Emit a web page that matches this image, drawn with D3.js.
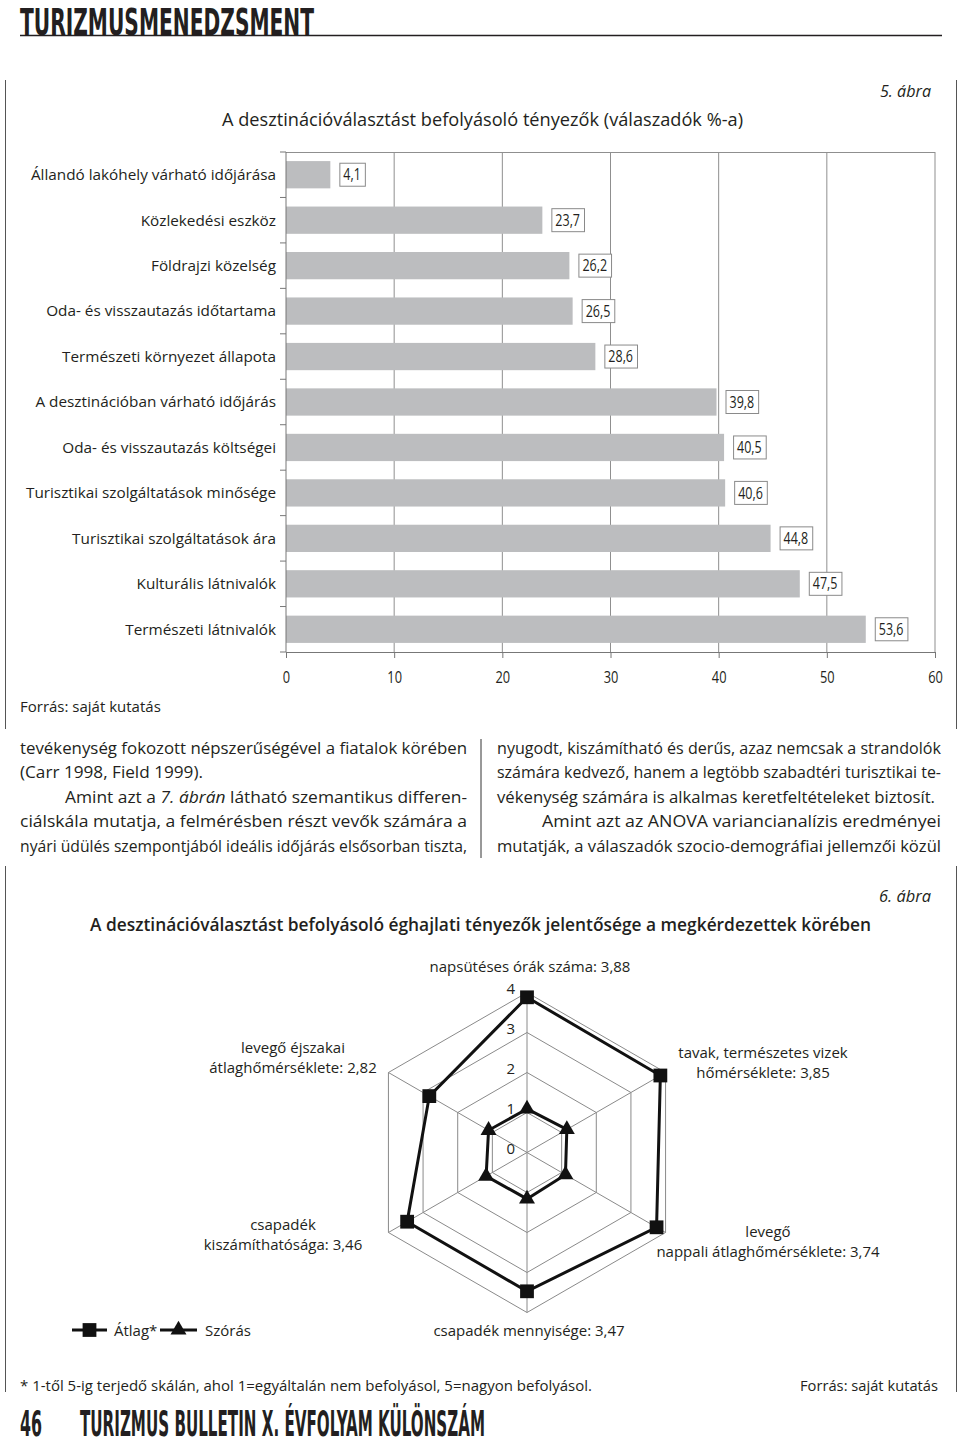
<!DOCTYPE html>
<html>
<head>
<meta charset="utf-8">
<script src="https://cdn.jsdelivr.net/npm/d3@7/dist/d3.min.js"></script>
<style>
  html, body { margin: 0; padding: 0; background: #fff; }
  svg { display: block; }
  text { fill: #231f20; }
</style>
</head>
<body>
<svg id="page" width="960" height="1444"></svg>
<script>
// ---------- DATA ----------
const categories = [
  "Állandó lakóhely várható időjárása",
  "Közlekedési eszköz",
  "Földrajzi közelség",
  "Oda- és visszautazás időtartama",
  "Természeti környezet állapota",
  "A desztinációban várható időjárás",
  "Oda- és visszautazás költségei",
  "Turisztikai szolgáltatások minősége",
  "Turisztikai szolgáltatások ára",
  "Kulturális látnivalók",
  "Természeti látnivalók"
];
const values = [4.1, 23.7, 26.2, 26.5, 28.6, 39.8, 40.5, 40.6, 44.8, 47.5, 53.6];
const xTicks = [0, 10, 20, 30, 40, 50, 60];

const radarAxes = [
  ["napsütéses órák száma: 3,88"],
  ["tavak, természetes vizek", "hőmérséklete: 3,85"],
  ["levegő", "nappali átlaghőmérséklete: 3,74"],
  ["csapadék mennyisége: 3,47"],
  ["csapadék", "kiszámíthatósága: 3,46"],
  ["levegő éjszakai", "átlaghőmérséklete: 2,82"]
];
const radarMean = [3.88, 3.85, 3.74, 3.47, 3.46, 2.82];
const radarSd = [1.09, 1.15, 1.11, 1.16, 1.18, 1.11];
const radarTicks = [0, 1, 2, 3, 4];
const legendNames = ["Átlag*", "Szórás"];

// ---------- PAGE ----------
const svg = d3.select("#page");
svg.append("rect").attr("width", 960).attr("height", 1444).attr("fill", "#fff");

const FONT = "'Open Sans', 'Noto Sans', sans-serif";
const NARROW = "'Open Sans', 'Noto Sans', sans-serif";
const DISPLAY = "'DejaVu Sans Condensed', 'DejaVu Sans', sans-serif";

// condense helper: squeeze a text to a fraction of its natural width
function condense(sel, f) {
  sel.each(function () {
    const w = this.getComputedTextLength();
    d3.select(this).attr("textLength", w * f).attr("lengthAdjust", "spacingAndGlyphs");
  });
}

// header
svg.append("text").attr("x", 20).attr("y", 34.5)
  .attr("font-family", DISPLAY).attr("font-weight", "bold").attr("font-size", 37)
  .attr("textLength", 294).attr("lengthAdjust", "spacingAndGlyphs")
  .text("TURIZMUSMENEDZSMENT");
svg.append("line").attr("x1", 20).attr("x2", 942).attr("y1", 35.5).attr("y2", 35.5)
  .attr("stroke", "#231f20").attr("stroke-width", 1.5);

// frame lines
const frame = [[80, 729], [866, 1392]];
frame.forEach(([a, b]) => {
  [5.5, 956.5].forEach(x => {
    svg.append("line").attr("x1", x).attr("x2", x).attr("y1", a).attr("y2", b)
      .attr("stroke", "#555").attr("stroke-width", 1);
  });
});

// figure 5 captions
svg.append("text").attr("x", 931).attr("y", 97).attr("text-anchor", "end")
  .attr("font-family", FONT).attr("font-style", "italic").attr("font-size", 17)
  .attr("textLength", 51).attr("lengthAdjust", "spacingAndGlyphs").text("5. ábra");
svg.append("text").attr("x", 222).attr("y", 126)
  .attr("font-family", FONT).attr("font-size", 18)
  .attr("textLength", 521).attr("lengthAdjust", "spacingAndGlyphs")
  .text("A desztinációválasztást befolyásoló tényezők (válaszadók %-a)");

// ---------- BAR CHART ----------
const x = d3.scaleLinear().domain([0, 60]).range([286, 935]);
const y = d3.scaleBand().domain(categories).range([152, 652]).paddingInner(0.4).paddingOuter(0.2);
const step = y.step();

const g = svg.append("g");
// grid lines
g.selectAll(".grid").data(xTicks.filter(d => d > 0)).join("line")
  .attr("x1", d => x(d)).attr("x2", d => x(d)).attr("y1", 152).attr("y2", 652)
  .attr("stroke", "#8f8f8f").attr("stroke-width", 1);
g.append("line").attr("x1", x(0)).attr("x2", x(60)).attr("y1", 152.5).attr("y2", 152.5)
  .attr("stroke", "#8f8f8f");

// bars
g.selectAll(".bar").data(values).join("rect")
  .attr("x", x(0)).attr("y", (d, i) => y(categories[i]))
  .attr("width", d => x(d) - x(0)).attr("height", y.bandwidth())
  .attr("fill", "#bcbdbf");

// y axis line and boundary ticks
g.append("line").attr("x1", 286).attr("x2", 286).attr("y1", 152).attr("y2", 652)
  .attr("stroke", "#777");
d3.range(categories.length + 1).forEach(i => {
  const yy = 152 + i * step;
  g.append("line").attr("x1", 280).attr("x2", 286).attr("y1", yy).attr("y2", yy).attr("stroke", "#777");
});
// category labels
g.selectAll(".cat").data(categories).join("text")
  .attr("x", 276).attr("y", d => y(d) + y.bandwidth() / 2).attr("dy", "0.35em")
  .attr("text-anchor", "end").attr("font-family", FONT).attr("font-size", 15.3)
  .attr("fill", "#2b2b2b").text(d => d);

// x axis
const xAxis = d3.axisBottom(x).tickValues(xTicks).tickSize(6).tickPadding(14).tickFormat(d3.format("d"));
const xa = svg.append("g").attr("transform", "translate(0,652)").call(xAxis);
xa.select(".domain").attr("stroke", "#777");
xa.selectAll(".tick line").attr("stroke", "#777");
xa.selectAll(".tick text").attr("font-family", NARROW).attr("font-size", 16).attr("fill", "#2b2b2b");
condense(xa.selectAll(".tick text"), 0.8);

// value label boxes
const lab = g.selectAll(".val").data(values).join("g")
  .attr("transform", (d, i) => `translate(${x(d) + 9},${y(categories[i]) + y.bandwidth() / 2})`);
lab.append("text").attr("x", 4).attr("dy", "0.35em")
  .attr("font-family", NARROW).attr("font-size", 16).attr("fill", "#2b2b2b")
  .text(d => d3.format(".1f")(d).replace(".", ","));
condense(lab.selectAll("text"), 0.78);
lab.each(function () {
  const t = d3.select(this).select("text");
  const w = +t.attr("textLength") + 8;
  d3.select(this).insert("rect", "text").attr("x", 0.5).attr("y", -11.5)
    .attr("width", w).attr("height", 23).attr("fill", "#fff").attr("stroke", "#8a8a8a");
});

svg.append("text").attr("x", 20).attr("y", 712)
  .attr("font-family", FONT).attr("font-size", 15).attr("fill", "#2b2b2b").text("Forrás: saját kutatás");

// ---------- BODY TEXT ----------
const para = [
  {x: 20, y: 754, len: 447, parts: [["tevékenység fokozott népszerűségével a fiatalok körében"]]},
  {x: 20, y: 778, len: 183, parts: [["(Carr 1998, Field 1999)."]]},
  {x: 65, y: 803, len: 402, parts: [["Amint azt a "], ["7. ábrán", "i"], [" látható szemantikus differen-"]]},
  {x: 20, y: 827, len: 447, parts: [["ciálskála mutatja, a felmérésben részt vevők számára a"]]},
  {x: 20, y: 852, len: 447, parts: [["nyári üdülés szempontjából ideális időjárás elsősorban tiszta,"]]},
  {x: 497, y: 754, len: 444, parts: [["nyugodt, kiszámítható és derűs, azaz nemcsak a strandolók"]]},
  {x: 497, y: 778, len: 444, parts: [["számára kedvező, hanem a legtöbb szabadtéri turisztikai te-"]]},
  {x: 497, y: 803, len: 438, parts: [["vékenység számára is alkalmas keretfeltételeket biztosít."]]},
  {x: 542, y: 827, len: 399, parts: [["Amint azt az ANOVA variancianalízis eredményei"]]},
  {x: 497, y: 852, len: 444, parts: [["mutatják, a válaszadók szocio-demográfiai jellemzői közül"]]}
];
para.forEach(p => {
  const t = svg.append("text").attr("x", p.x).attr("y", p.y)
    .attr("font-family", FONT).attr("font-size", 16.5).attr("fill", "#231f20")
    .attr("textLength", p.len).attr("lengthAdjust", "spacingAndGlyphs");
  p.parts.forEach(([s, st]) => {
    const ts = t.append("tspan").text(s);
    if (st === "i") ts.attr("font-style", "italic");
  });
});
svg.append("line").attr("x1", 481).attr("x2", 481).attr("y1", 739).attr("y2", 858)
  .attr("stroke", "#333");

// ---------- FIGURE 6 ----------
svg.append("text").attr("x", 931).attr("y", 902).attr("text-anchor", "end")
  .attr("font-family", FONT).attr("font-style", "italic").attr("font-size", 17)
  .attr("textLength", 52).attr("lengthAdjust", "spacingAndGlyphs").text("6. ábra");
svg.append("text").attr("x", 90).attr("y", 931)
  .attr("font-family", FONT).attr("font-weight", 600).attr("font-size", 18)
  .attr("textLength", 781).attr("lengthAdjust", "spacingAndGlyphs")
  .text("A desztinációválasztást befolyásoló éghajlati tényezők jelentősége a megkérdezettek körében");

const cx = 527, cy = 1152.5;
const r = d3.scaleLinear().domain([0, 4]).range([0, 160]);
const n = radarAxes.length;
const ang = i => -Math.PI / 2 + i * 2 * Math.PI / n;
const pt = (v, i) => [cx + r(v) * Math.cos(ang(i)), cy + r(v) * Math.sin(ang(i))];
const rg = svg.append("g");

// rings
radarTicks.filter(t => t > 0).forEach(t => {
  rg.append("path").attr("d", d3.line()(d3.range(n).map(i => pt(t, i))) + "Z")
    .attr("fill", "none").attr("stroke", "#8a8a8a").attr("stroke-width", 1);
});
// spokes
d3.range(n).forEach(i => {
  const [px, py] = pt(4, i);
  rg.append("line").attr("x1", cx).attr("y1", cy).attr("x2", px).attr("y2", py)
    .attr("stroke", "#8a8a8a").attr("stroke-width", 1);
});
// tick labels
rg.selectAll(".rt").data(radarTicks).join("text")
  .attr("x", 515).attr("y", d => cy - r(d) - 4).attr("dy", "0.35em")
  .attr("text-anchor", "end").attr("font-family", FONT).attr("font-size", 15)
  .attr("fill", "#2b2b2b").text(d => d);

// series
const closed = arr => d3.line()(arr.map((v, i) => pt(v, i))) + "Z";
rg.append("path").attr("d", closed(radarSd)).attr("fill", "none")
  .attr("stroke", "#111").attr("stroke-width", 3).attr("stroke-linejoin", "miter");
rg.append("path").attr("d", closed(radarMean)).attr("fill", "none")
  .attr("stroke", "#111").attr("stroke-width", 3).attr("stroke-linejoin", "miter");
const tri = d3.symbol().type(d3.symbolTriangle).size(110);
const sq = d3.symbol().type(d3.symbolSquare).size(190);
radarSd.forEach((v, i) => {
  const [px, py] = pt(v, i);
  rg.append("path").attr("d", tri()).attr("transform", `translate(${px},${py})`).attr("fill", "#111");
});
radarMean.forEach((v, i) => {
  const [px, py] = pt(v, i);
  rg.append("path").attr("d", sq()).attr("transform", `translate(${px},${py})`).attr("fill", "#111");
});

// axis labels
const labelPos = [[530, 972], [763, 1058], [768, 1237], [529, 1336], [283, 1230], [293, 1053]];
radarAxes.forEach((lines, i) => {
  const t = rg.append("text").attr("text-anchor", "middle")
    .attr("font-family", FONT).attr("font-size", 15).attr("fill", "#2b2b2b");
  lines.forEach((s, k) => {
    t.append("tspan").attr("x", labelPos[i][0]).attr("y", labelPos[i][1] + k * 20).text(s);
  });
});

// legend
const lg = svg.append("g");
[[72, 107, "sq", 114], [160, 197, "tri", 205]].forEach(([a, b, m, tx], k) => {
  lg.append("line").attr("x1", a).attr("x2", b).attr("y1", 1330).attr("y2", 1330)
    .attr("stroke", "#111").attr("stroke-width", 3);
  lg.append("path").attr("d", m === "sq" ? sq() : tri())
    .attr("transform", `translate(${(a + b) / 2},1330)`).attr("fill", "#111");
  lg.append("text").attr("x", tx).attr("y", 1336).attr("font-family", FONT).attr("font-size", 15)
    .attr("fill", "#2b2b2b").text(legendNames[k]);
});

// footnote
svg.append("text").attr("x", 20).attr("y", 1391).attr("font-family", FONT).attr("font-size", 15)
  .attr("textLength", 572).attr("lengthAdjust", "spacingAndGlyphs")
  .text("* 1-től 5-ig terjedő skálán, ahol 1=egyáltalán nem befolyásol, 5=nagyon befolyásol.");
svg.append("text").attr("x", 938).attr("y", 1391).attr("text-anchor", "end")
  .attr("font-family", FONT).attr("font-size", 15)
  .attr("textLength", 138).attr("lengthAdjust", "spacingAndGlyphs")
  .text("Forrás: saját kutatás");

// footer
svg.append("text").attr("x", 20).attr("y", 1435.5)
  .attr("font-family", DISPLAY).attr("font-weight", "bold").attr("font-size", 35)
  .attr("textLength", 22).attr("lengthAdjust", "spacingAndGlyphs").text("46");
svg.append("text").attr("x", 80).attr("y", 1435.5)
  .attr("font-family", DISPLAY).attr("font-weight", "bold").attr("font-size", 35)
  .attr("textLength", 405).attr("lengthAdjust", "spacingAndGlyphs")
  .text("TURIZMUS BULLETIN X. ÉVFOLYAM KÜLÖNSZÁM");
</script>
</body>
</html>
